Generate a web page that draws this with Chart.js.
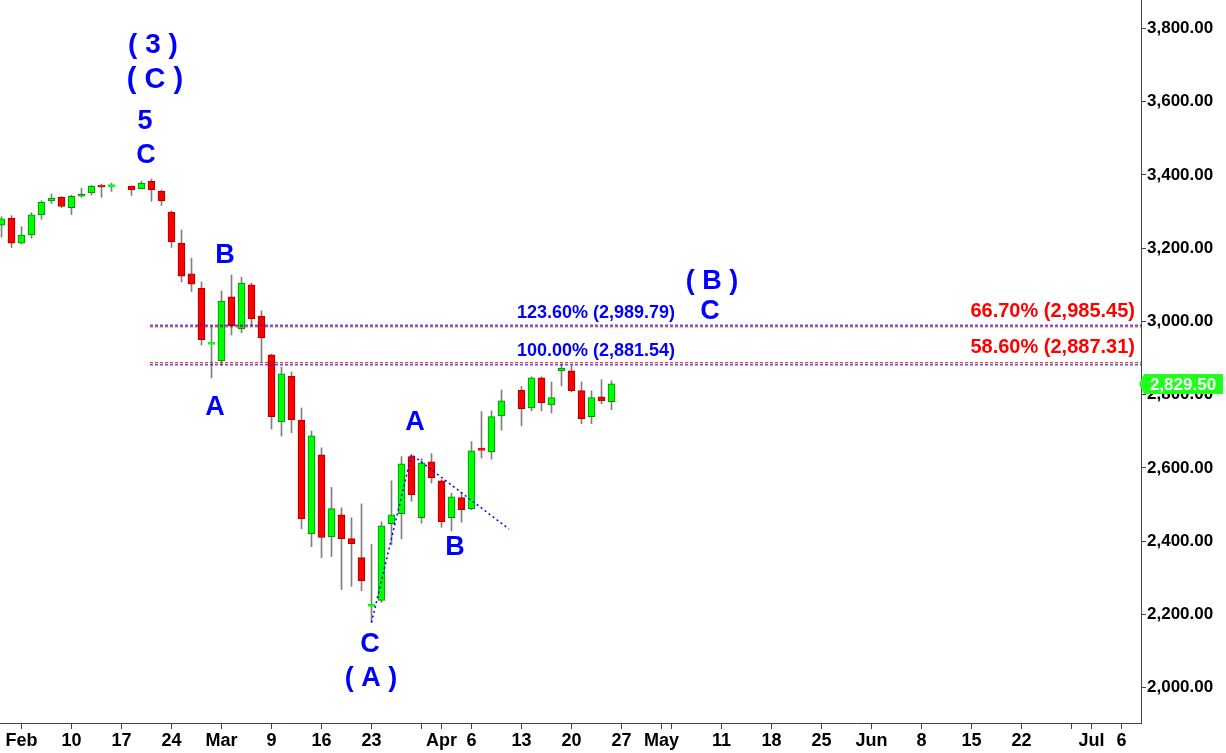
<!DOCTYPE html>
<html>
<head>
<meta charset="utf-8">
<script src="https://cdn.jsdelivr.net/npm/chart.js@4.4.1/dist/chart.umd.min.js"></script>
<style>
  html, body { margin: 0; padding: 0; background: #fff; }
  #wrap { position: relative; width: 1226px; height: 753px; }
</style>
</head>
<body>
<div id="wrap"><canvas id="chart"></canvas></div>
<script>
/* ── daily candles, one slot per weekday starting Thu 30 Jan (null = market holiday) ── */
const opens  = [3263,3282,3214,3236,3291,3329,3340,3311,3342,3351,3372,3371,null,3370,3362,3383,3356,3299,3214,3130,
                3091,2940,2892,3067,2980,3100,3015,2909,2726,2851,2731,2420,2636,2412,2472,2407,2355,2225,2238,2448,
                2475,2631,2464,2617,2565,2464,2519,2489,2651,2644,2742,null,2813,2764,2846,2772,2865,2865,2811,2740,
                2794,2781];
const highs  = [3286,3289,3259,3297,3330,3348,3341,3345,3364,3372,3375,3378,null,3370,3383,3389,3359,3302,3250,3173,
                3108,2987,3083,3127,3121,3105,3029,2911,2876,2862,2764,2701,2655,2547,2491,2464,2502,2391,2453,2565,
                2631,2637,2625,2639,2568,2531,2534,2672,2754,2756,2813,null,2822,2849,2849,2835,2884,2879,2835,2811,
                2841,2838];
const lows   = [3230,3202,3212,3227,3279,3322,3311,3292,3339,3345,3339,3355,null,3344,3362,3328,3317,3202,3108,3082,
                2936,2846,2881,2963,2969,2988,2890,2706,2687,2696,2434,2385,2355,2358,2268,2277,2265,2178,2233,2390,
                2406,2509,2449,2559,2438,2428,2452,2486,2627,2624,2703,null,2715,2756,2756,2750,2824,2808,2721,2721,
                2775,2759];
const closes = [3280,3214,3236,3291,3326,3337,3314,3342,3348,3370,3367,3374,null,3359,3378,3359,3329,3217,3124,3102,
                2950,2943,3056,2988,3105,3007,2955,2740,2857,2731,2461,2688,2410,2489,2407,2393,2292,2228,2442,2472,
                2611,2527,2614,2573,2453,2521,2486,2647,2648,2740,2783,null,2762,2846,2778,2792,2873,2811,2734,2792,
                2783,2829.5];
const lastPrice = 2829.50;

/* ── axes ── */
const tickSlots  = [2,7,12,17,22,27,32,37,42,44,47,52,57,62,66,67,72,77,82,87,92,97,102,107,109,112];
const tickLabels = ['Feb','10','17','24','Mar','9','16','23','','Apr','6','13','20','27','May','','11','18','25','Jun','8','15','22','','Jul','6'];
const yTicks = [2000,2200,2400,2600,2800,3000,3200,3400,3600,3800];

/* ── fib levels and wave count ── */
const levelsBlue = [2989.79, 2881.54];
const levelsRed  = [2985.45, 2887.31];
const levelFrom  = 14.85;
const waveLine   = [{x:37, y:2178}, {x:41, y:2637}, {x:50.75, y:2433}];
const waveLabels = [
  {t:'( 3 )', x:15.15, y:3755, s:28},
  {t:'( C )', x:15.35, y:3659, s:29},
  {t:'5',     x:14.35, y:3545, s:27},
  {t:'C',     x:14.45, y:3452, s:27},
  {t:'B',     x:22.35, y:3179, s:27},
  {t:'A',     x:21.35, y:2766, s:27},
  {t:'A',     x:41.35, y:2725, s:27},
  {t:'B',     x:45.35, y:2384, s:27},
  {t:'C',     x:36.85, y:2117, s:27},
  {t:'( A )', x:36.95, y:2026, s:27},
  {t:'( B )', x:71.05, y:3108, s:27},
  {t:'C',     x:70.85, y:3026, s:27},
];
const fibLabels = [
  {t:'123.60% (2,989.79)', x:51.55,  y:3024, c:'#0000ff', a:'left',  s:18},
  {t:'100.00% (2,881.54)', x:51.55,  y:2919, c:'#0000ff', a:'left',  s:18},
  {t:'66.70% (2,985.45)',  x:113.35, y:3027, c:'#ff0000', a:'right', s:20},
  {t:'58.60% (2,887.31)',  x:113.35, y:2928, c:'#ff0000', a:'right', s:20},
];

const FONT = '"Liberation Sans", Arial, sans-serif';
Chart.defaults.font.family = FONT;

const bodies = [], wicks = [], fills = [], edges = [];
opens.forEach((o, i) => {
  if (o === null) return;
  const c = closes[i];
  const up = c >= o;
  const doji = Math.abs(c - o) < 4;
  bodies.push({x: i, y: doji ? [o - 3, o + 3] : [o, c]});
  wicks.push({x: i, y: [lows[i], highs[i]]});
  fills.push(up ? '#00ff00' : '#ff0000');
  edges.push(doji ? (up ? '#00ff00' : '#ff0000') : (up ? '#008a00' : '#a00000'));
});

const levelSet = (vals, color) => vals.map(v => ({
  type: 'line', data: [{x: levelFrom, y: v}, {x: 113.95, y: v}],
  borderColor: color, borderWidth: 1, borderDash: [3, 2], pointRadius: 0, order: 0,
}));

const annotate = {
  id: 'annotate',
  afterDatasetsDraw(chart) {
    const {ctx, scales: {x, y}} = chart;
    ctx.save();
    ctx.textBaseline = 'middle';
    ctx.textAlign = 'center';
    ctx.fillStyle = '#0000ff';
    waveLabels.forEach(l => {
      ctx.font = `bold ${l.s}px ${FONT}`;
      ctx.fillText(l.t, x.getPixelForValue(l.x), y.getPixelForValue(l.y));
    });
    fibLabels.forEach(l => {
      ctx.font = `bold ${l.s}px ${FONT}`;
      ctx.fillStyle = l.c;
      ctx.textAlign = l.a;
      ctx.fillText(l.t, x.getPixelForValue(l.x), y.getPixelForValue(l.y));
    });
    ctx.restore();
  },
  afterDraw(chart) {
    const {ctx, chartArea, scales: {y}} = chart;
    const py = Math.round(y.getPixelForValue(lastPrice));
    const r = chartArea.right;
    ctx.save();
    ctx.fillStyle = '#1eff1e';
    ctx.beginPath();
    ctx.moveTo(r - 2, py);
    ctx.lineTo(r + 3, py - 10);
    ctx.lineTo(r + 82, py - 10);
    ctx.lineTo(r + 82, py + 10);
    ctx.lineTo(r + 3, py + 10);
    ctx.closePath();
    ctx.fill();
    ctx.fillStyle = '#fff';
    ctx.font = `bold 17px ${FONT}`;
    ctx.textAlign = 'center';
    ctx.textBaseline = 'middle';
    ctx.fillText(lastPrice.toLocaleString('en-US', {minimumFractionDigits: 2}), r + 42, py + 1);
    ctx.restore();
  }
};

new Chart(document.getElementById('chart'), {
  type: 'bar',
  data: {
    datasets: [
      { label: 'body', data: bodies, backgroundColor: fills, borderColor: edges, borderWidth: 1,
        borderSkipped: false, barThickness: 7, grouped: false, order: 1 },
      { label: 'wick', data: wicks, backgroundColor: '#808080', barThickness: 1, grouped: false, order: 2 },
      ...levelSet(levelsBlue, '#0000ff'),
      ...levelSet(levelsRed, '#ff0000'),
      { type: 'line', data: waveLine, borderColor: '#0000ff', borderWidth: 1.5, borderDash: [2, 3],
        pointRadius: 0, order: 0 },
    ],
  },
  options: {
    responsive: true, maintainAspectRatio: false, animation: false, devicePixelRatio: 1,
    layout: { padding: 0 },
    plugins: { legend: { display: false }, tooltip: { enabled: false } },
    scales: {
      x: {
        type: 'linear', min: -0.15, max: 113.95, offset: false,
        afterBuildTicks: ax => { ax.ticks = tickSlots.map(v => ({value: v})); },
        afterFit: ax => { ax.height = 30; ax.paddingLeft = 0; ax.paddingRight = 0; },
        grid: { drawOnChartArea: false, offset: false, tickLength: 6, color: '#444' },
        border: { color: '#444' },
        ticks: { autoSkip: false, maxRotation: 0, padding: 1, color: '#000',
                 font: { size: 18, weight: 'bold' }, callback: (v, i) => tickLabels[i] },
      },
      y: {
        position: 'right', min: 1903.6, max: 3877.8,
        afterBuildTicks: ax => { ax.ticks = yTicks.map(v => ({value: v})); },
        afterFit: ax => { ax.width = 85; ax.paddingTop = 0; ax.paddingBottom = 0; },
        grid: { drawOnChartArea: false, tickLength: 5, color: '#444' },
        border: { color: '#444' },
        ticks: { padding: 1, color: '#000', font: { size: 17, weight: 'bold' },
                 callback: v => v.toLocaleString('en-US', {minimumFractionDigits: 2, maximumFractionDigits: 2}) },
      },
    },
  },
  plugins: [annotate],
});
</script>
</body>
</html>
